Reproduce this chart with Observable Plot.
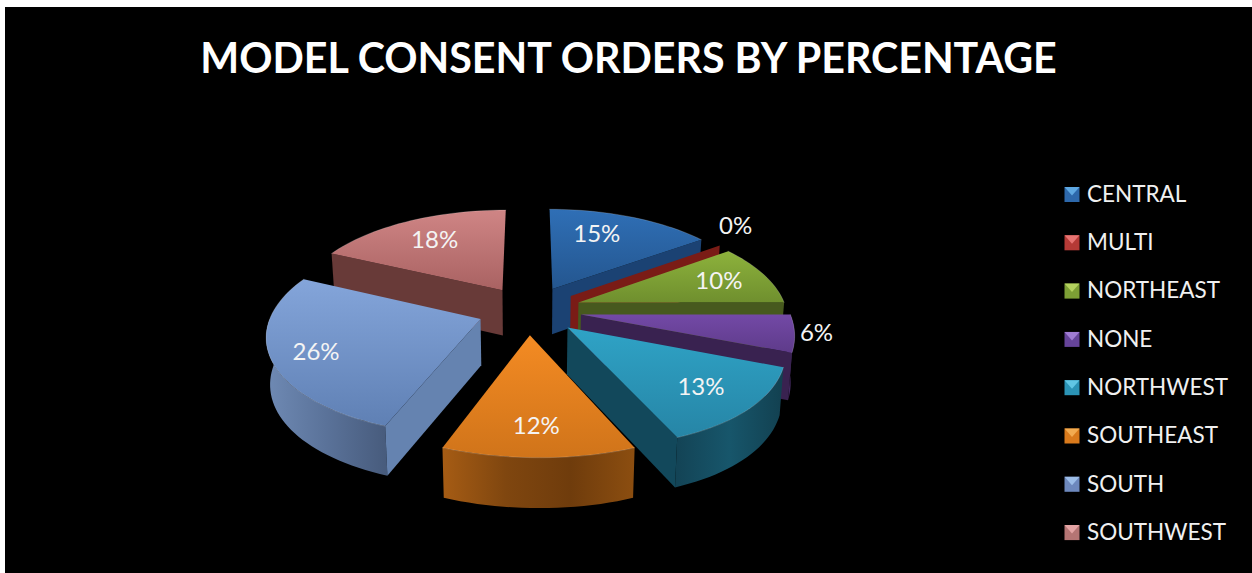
<!DOCTYPE html>
<html>
<head>
<meta charset="utf-8">
<script src="https://cdn.jsdelivr.net/npm/d3@7"></script>
<script src="https://cdn.jsdelivr.net/npm/@observablehq/plot@0.6"></script>
<style>
  html, body { margin: 0; padding: 0; background: #fff; overflow: hidden; }
  #chart { position: absolute; left: 5px; top: 7px; }
  #chart svg { display: block; background: #000; }
</style>
</head>
<body>
<div id="chart"></div>
<script>
// Model consent orders, share by region
const regions = ["CENTRAL", "MULTI", "NORTHEAST", "NONE", "NORTHWEST", "SOUTHEAST", "SOUTH", "SOUTHWEST"];
const shares = [15, 0, 10, 6, 13, 12, 26, 18];

// Face colours per region: top gradient (back, front), side wall, rim gradient stops
const topBack = ["#2f6fb6", "#8a1f1a", "#8db23c", "#7349a6", "#2fa3c6", "#f48b23", "#84a5da", "#cf8585"];
const topFront = ["#24568f", "#7a1a15", "#6f8f2e", "#5e3b8a", "#2685a6", "#d0741a", "#5f80b4", "#a96262"];
const wallColors = ["#1b4273", "#7a1c16", "#47591e", "#392250", "#12485b", "#7b4310", "#6583b0", "#683a38"];
const rimStops = [
  ["#1b4273", "#1b4273"], ["#7a1c16", "#7a1c16"], ["#47591e", "#47591e"], ["#4a2d6b", "#3a2352"],
  ["#134355", "#17566b", "#124050"], ["#a65c14", "#7f460f", "#6f3c0c", "#8c4e10"], ["#6f8ab4", "#5a7299", "#475b7c"], ["#683a38", "#683a38"]
];
const swatchColors = ["#2d68ab", "#b53a36", "#7d9f35", "#66449a", "#2b93b5", "#d97a1c", "#6d88bd", "#b57574"];
const swatchLights = ["#5ea8e2", "#e87472", "#b4d25e", "#a07cd4", "#60c6e4", "#f2ab50", "#9cbde8", "#e4a4a4"];

// Radial position of each percentage label, as a fraction of the radius, and its angle shift
const labelRadius = [0.7, 1.25, 0.75, 1.1, 0.76, 0.77, 0.8, 0.7];
const labelTurn = [-6, -6, 0, -1, 0, 0, -2, 0];

const W = 1252, H = 573;
const pie = {cx: 529, cy: 309.5, k: 208, depth: 96.9, persp: 0.144, explode: 0.25};
const rad = Math.PI / 180;

// Perspective projection of the tilted pie plane (X right, Z away from the viewer).
// The near half is a touch wider and leans right.
function project(X, Z, dropped = false) {
  const s = 1 / (1 + pie.persp * Z);
  const near = Math.max(0, -Z);
  let x = pie.cx + pie.k * X * s * (1 + 0.03 * near * near) + 6.5 * near * near;
  let y = pie.cy - pie.depth * Z * s;
  if (dropped) {
    x = pie.cx + (x - pie.cx) * 0.985;
    y += 46 - 3.5 * Z;
  }
  return {x, y};
}

// Angles come straight from the cumulative shares, clockwise from twelve o'clock
const total = d3.sum(shares);
let running = 0;
const slices = regions.map((name, i) => {
  const a0 = (running / total) * 360;
  running += shares[i];
  const a1 = (running / total) * 360;
  const mid = ((a0 + a1) / 2) * rad;
  return {name, i, a0, a1, ox: pie.explode * Math.sin(mid), oz: pie.explode * Math.cos(mid)};
});

function rimPoint(s, deg, dropped) {
  return project(s.ox + Math.sin(deg * rad), s.oz + Math.cos(deg * rad), dropped);
}
function apex(s, dropped) {
  return project(s.ox, s.oz, dropped);
}
function arc(s, from, to, dropped) {
  const n = Math.max(1, Math.ceil(Math.abs(to - from) / 2));
  return d3.range(n + 1).map((j) => rimPoint(s, from + ((to - from) * j) / n, dropped));
}

const marks = [];
const face = (points, fill) => marks.push(Plot.line(points, {x: "x", y: "y", fill, stroke: "none", curve: "linear-closed"}));

// Gradients used by the faces
marks.push(() => {
  const defs = d3.create("svg:defs");
  slices.forEach((s) => {
    const t = defs.append("linearGradient").attr("id", `top${s.i}`).attr("x1", 0).attr("y1", 0).attr("x2", 0).attr("y2", 1);
    t.append("stop").attr("offset", 0).attr("stop-color", topBack[s.i]);
    t.append("stop").attr("offset", 1).attr("stop-color", topFront[s.i]);
    const r = defs.append("linearGradient").attr("id", `rim${s.i}`).attr("x1", 0).attr("y1", 0).attr("x2", 1).attr("y2", 0);
    const stops = rimStops[s.i];
    stops.forEach((c, j) => r.append("stop").attr("offset", j / (stops.length - 1)).attr("stop-color", c));
  });
  return defs.node();
});

// Painter's order, far slices first
const drawOrder = ["CENTRAL", "SOUTHWEST", "MULTI", "NORTHEAST", "NONE", "NORTHWEST", "SOUTH", "SOUTHEAST"];
for (const name of drawOrder) {
  const s = slices.find((d) => d.name === name);
  // Curved outer wall: only the part facing the viewer
  const from = Math.max(s.a0, 90), to = Math.min(s.a1, 270);
  if (to > from) {
    face([...arc(s, from, to, false), ...arc(s, to, from, true)], `url(#rim${s.i})`);
  }
  // Radial walls
  const wall = (deg) => face([apex(s, false), rimPoint(s, deg, false), rimPoint(s, deg, true), apex(s, true)], wallColors[s.i]);
  if (Math.sin(s.a0 * rad) < -1e-6) wall(s.a0);
  if (Math.sin(s.a1 * rad) > 1e-6) wall(s.a1);
  // Top face, with a faint light bevel along the rim
  if (s.a1 > s.a0) {
    const topFace = [apex(s, false), ...arc(s, s.a0, s.a1, false)];
    face(topFace, `url(#top${s.i})`);
    marks.push(Plot.line(arc(s, s.a0, s.a1, false), {x: "x", y: "y", stroke: "#fff", strokeOpacity: 0.18, strokeWidth: 1}));
  }
}

// Percentage labels
const labelData = slices.map((s) => {
  const mid = (s.a0 + s.a1) / 2 + labelTurn[s.i];
  const p = project(s.ox + labelRadius[s.i] * Math.sin(mid * rad), s.oz + labelRadius[s.i] * Math.cos(mid * rad));
  return {...p, text: `${shares[s.i]}%`};
});
marks.push(Plot.text(labelData, {x: "x", y: "y", text: "text", fill: "#f4f4f4", fontSize: 24, fontFamily: "Lato"}));

// Legend
const legendX = 1064, swatch = 15, legendTop = 194, legendStep = 48.3;
const rows = regions.map((name, i) => ({name, i, y: legendTop + i * legendStep}));
for (const r of rows) {
  face([{x: legendX, y: r.y - swatch / 2}, {x: legendX + swatch, y: r.y - swatch / 2}, {x: legendX + swatch, y: r.y + swatch / 2}, {x: legendX, y: r.y + swatch / 2}], swatchColors[r.i]);
  face([{x: legendX, y: r.y - swatch / 2}, {x: legendX + swatch, y: r.y - swatch / 2}, {x: legendX + swatch / 2, y: r.y + 1}], swatchLights[r.i]);
}
marks.push(Plot.text(rows, {x: legendX + 22.5, y: "y", text: "name", fill: "#f0f0f0", fontSize: 22.5, fontFamily: "Lato", textAnchor: "start"}));

// Title
marks.push(Plot.text(["MODEL CONSENT ORDERS BY PERCENTAGE"], {
  x: [628], y: [59], text: (d) => d, fill: "#fff", fontSize: 41.2, fontWeight: 700, fontFamily: "Lato"
}));

const chart = Plot.plot({
  width: W - 5,
  height: H - 7,
  margin: 0,
  x: {domain: [5, W], range: [0, W - 5], axis: null},
  y: {domain: [7, H], range: [0, H - 7], axis: null},
  style: {background: "#000"},
  marks
});
document.getElementById("chart").append(chart);
</script>
</body>
</html>
